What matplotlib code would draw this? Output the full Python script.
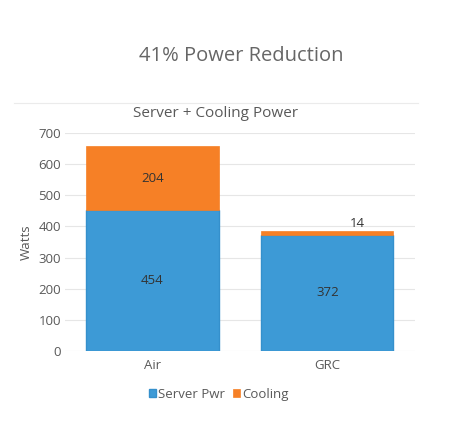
import matplotlib.pyplot as plt
from matplotlib.lines import Line2D

categories = ['Air', 'GRC']
server_pwr = [454, 372]
cooling = [204, 14]
y_ticks = [0, 100, 200, 300, 400, 500, 600, 700]

BLUE = '#3D9AD6'
ORANGE = '#F68026'
GREY = '#595959'

plt.rcParams['font.family'] = ['Open Sans', 'DejaVu Sans']

fig = plt.figure(figsize=(4.72, 4.28), dpi=100)
ax = fig.add_axes([0.1377, 0.1806, 0.7413, 0.508])

x = range(len(categories))
b1 = ax.bar(x, server_pwr, width=0.755, color=BLUE, edgecolor='#3590CC', linewidth=1.0,
            label='Server Pwr', zorder=3)
b2 = ax.bar(x, cooling, width=0.755, bottom=server_pwr, color=ORANGE, edgecolor=ORANGE,
            linewidth=0.5, label='Cooling', zorder=3)

for i, v in enumerate(server_pwr):
    ax.text(i, v / 2, str(v), ha='center', va='center', fontsize=9.5, color='#333333', zorder=4)
# Air cooling label inside, GRC cooling label above the bar
ax.text(0, server_pwr[0] + cooling[0] / 2, str(cooling[0]), ha='center', va='center',
        fontsize=9.5, color='#333333', zorder=4)
ax.text(1.17, server_pwr[1] + cooling[1] + 4, str(cooling[1]), ha='center', va='bottom',
        fontsize=9.5, color='#333333', zorder=4)

ax.set_xlim(-0.5, 1.5)
ax.set_ylim(0, 700)
ax.set_yticks(y_ticks)
ax.set_xticks(list(x))
ax.set_xticklabels(categories)
ax.tick_params(length=0, labelsize=9.5, colors=GREY)
ax.tick_params(axis='y', pad=3)
ax.tick_params(axis='x', pad=6)
ax.grid(axis='y', color='#E6E6E6', linewidth=0.8, zorder=0)
for s in ax.spines.values():
    s.set_visible(False)
ax.set_ylabel('Watts', fontsize=9.5, color=GREY, labelpad=4)

ax.set_title('Server + Cooling Power', fontsize=11, color=GREY, pad=11.5, x=0.43)

fig.text(0.512, 0.869, '41% Power Reduction', ha='center', va='center', fontsize=14.5, color='#666666')
fig.add_artist(Line2D([0.03, 0.885], [0.76, 0.76], color='#EBEBEB', linewidth=0.8))

ax.legend(handles=[b1, b2], loc='upper center', bbox_to_anchor=(0.44, -0.115), ncol=2,
          frameon=False, fontsize=9.5, handlelength=0.5, handleheight=0.5,
          handletextpad=0.2, columnspacing=0.6, labelcolor=GREY)

fig.savefig('out.png', dpi=100, facecolor='white')
